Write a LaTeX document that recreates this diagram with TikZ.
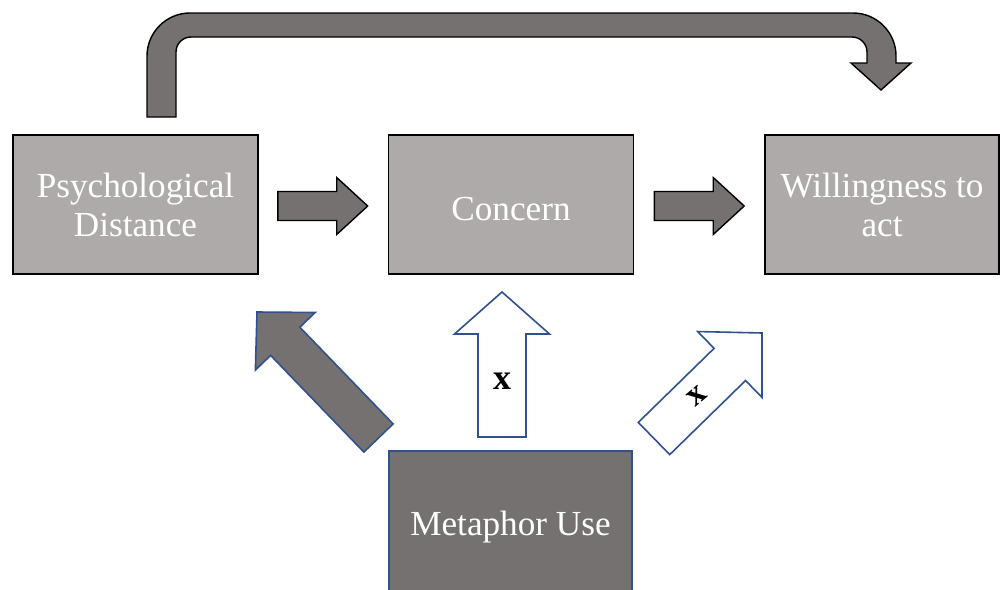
\documentclass[tikz,border=0pt]{standalone}
\usepackage{fontspec}
\setmainfont{Liberation Serif}
\usepackage{tikz}
\usetikzlibrary{calc}

\definecolor{boxlight}{RGB}{174,170,170}
\definecolor{boxdark}{RGB}{117,113,113}
\definecolor{edgeblue}{RGB}{47,82,143}

\tikzset{
  factor/.style={draw=black,line width=0.8pt,fill=boxlight,text=white,align=center,
    minimum width=122.5pt,minimum height=69.5pt,inner sep=2pt,
    font=\fontsize{17.6}{19.5}\selectfont,
    execute at begin node={\rule{0pt}{16pt}}},
  flowarrow/.style={draw=black,line width=0.7pt,fill=boxdark},
  effarrow/.style={draw=edgeblue,line width=0.8pt,fill=boxdark},
  nullarrow/.style={draw=edgeblue,line width=0.8pt,fill=white},
}

% #1 style, #2 tail, #3 tip, #4 shaft half width, #5 head half width, #6 head length
\newcommand{\blockarrow}[6][]{%
  \coordinate (hb) at ($(#3)!#6!(#2)$);
  \draw[#1] ($(#2)!#4!90:(#3)$) -- ($(hb)!#4!90:(#3)$) -- ($(hb)!#5!90:(#3)$) -- (#3)
    -- ($(hb)!#5!-90:(#3)$) -- ($(hb)!#4!-90:(#3)$) -- ($(#2)!#4!-90:(#3)$) -- cycle;
}

\begin{document}
\begin{tikzpicture}[x=0.5pt,y=-0.5pt]
  \useasboundingbox (0,0) rectangle (1000,589);
  \clip (0,0) rectangle (1000,589);

  % the three factors
  \node[factor] (psych) at (135.5,204.5) {Psychological\\Distance};
  \node[factor] (concern) at (511,204.5) {Concern};
  \node[factor,minimum width=117pt] (will) at (882,204.5) {Willingness to\\act};
  \node[factor,draw=edgeblue,fill=boxdark,minimum width=121.5pt,minimum height=72pt]
    (metaphor) at (510.5,523) {Metaphor Use};

  % path arrows
  \coordinate (pcT) at ($(psych.east)+(19,1.5)$);
  \coordinate (pcH) at ($(concern.west)+(-20,1.5)$);
  \coordinate (cwT) at ($(concern.east)+(20,1.5)$);
  \coordinate (cwH) at ($(will.west)+(-20,1.5)$);
  \blockarrow[flowarrow]{pcT}{pcH}{7.25pt}{14.25pt}{15.5pt}
  \blockarrow[flowarrow]{cwT}{cwH}{7.25pt}{14.25pt}{15.5pt}

  % direct path psych -> will
  \draw[flowarrow] (147,117) -- (147,56) .. controls (147,32.3) and (166.3,13) .. (190,13)
    -- (853,13) .. controls (876.7,13) and (896,32.3) .. (896,56) -- (896,63) -- (911,63)
    -- (881,90) -- (851,63) -- (867,63) -- (867,52) .. controls (867,43.7) and (860.3,37) .. (852,37)
    -- (191,37) .. controls (182.7,37) and (176,43.7) .. (176,52) -- (176,117) -- cycle;

  % effects of metaphor use
  \coordinate (mpT) at (378.5,438);
  \coordinate (mpH) at (257,312);
  \coordinate (mcT) at (502,437);
  \coordinate (mcH) at (502,292);
  \coordinate (mwT) at (654,438.5);
  \coordinate (mwH) at (762,333);
  \blockarrow[effarrow]{mpT}{mpH}{10.15pt}{20.75pt}{20.35pt}
  \blockarrow[nullarrow]{mcT}{mcH}{12pt}{23.75pt}{21pt}
  \blockarrow[nullarrow]{mwT}{mwH}{11.25pt}{23pt}{22.5pt}
  \node[font=\fontsize{18}{20}\selectfont\bfseries] (xc) at (502,381) {x};
  \node[font=\fontsize{17}{19}\selectfont\bfseries,rotate=40] (xw) at (697,396) {x};
\end{tikzpicture}
\end{document}
